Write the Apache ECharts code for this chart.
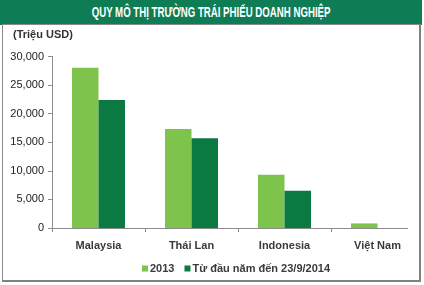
<!DOCTYPE html>
<html>
<head>
<meta charset="utf-8">
<script src="https://cdn.jsdelivr.net/npm/echarts@6/dist/echarts.min.js"></script>
<style>
  html, body { margin: 0; padding: 0; background: #fff; }
  #wrap { position: relative; width: 424px; height: 285px; overflow: hidden; background: #fff; }
  #header { position: absolute; left: 0; top: 0; width: 422px; height: 25px; background: #0e7d55;
    color: #fff; font-family: "Liberation Sans", "DejaVu Sans", sans-serif;
    font-weight: bold; font-size: 14px; line-height: 25px; text-align: center; }
  #header span { display: inline-block; transform: scaleX(0.69); transform-origin: center; white-space: nowrap; }
  #frame { position: absolute; left: 2px; top: 24px; width: 416px; height: 255px; border: 1px solid #8a8a8a;
    border-right: 2px solid #808080; border-bottom: 2px solid #808080; pointer-events: none; z-index: 3; }
  #clip { position: absolute; left: 3px; top: 25px; width: 405px; height: 254px; overflow: hidden; }
  #chart { position: absolute; left: -3px; top: -25px; width: 424px; height: 285px; }
</style>
</head>
<body>
<div id="wrap">
  <div id="clip"><div id="chart"></div></div>
  <div id="frame"></div>
  <div id="header"><span>QUY MÔ THỊ TRƯỜNG TRÁI PHIẾU DOANH NGHIỆP</span></div>
</div>
<script>
var categories = ['Malaysia', 'Thái Lan', 'Indonesia', 'Việt Nam'];
var seriesNames = ['2013', 'Từ đầu năm đến 23/9/2014'];
var values2013 = [28050, 17300, 9300, 800];
var values2014 = [22400, 15700, 6500, 0];
var yTicks = [0, 5000, 10000, 15000, 20000, 25000, 30000];
var unitLabel = '(Triệu USD)';

var chart = echarts.init(document.getElementById('chart'), null, { renderer: 'canvas' });
var fontFam = '"Liberation Sans", "DejaVu Sans", sans-serif';
chart.setOption({
  animation: false,
  backgroundColor: 'transparent',
  graphic: [{
    type: 'text', left: 13, top: 29,
    style: { text: unitLabel, font: 'bold 11px ' + fontFam, fill: '#333' }
  }],
  legend: {
    data: seriesNames,
    left: 137, top: 258,
    itemWidth: 6, itemHeight: 6, itemGap: 10,
    icon: 'rect',
    textStyle: { fontFamily: fontFam, fontSize: 11, fontWeight: 'bold', color: '#3a3a3a', padding: [0, 0, 0, -3] }
  },
  grid: { left: 52, right: -10, top: 56.5, bottom: 57, containLabel: false },
  xAxis: {
    type: 'category',
    data: categories,
    axisLine: { lineStyle: { color: '#8c8c8c', width: 1 } },
    axisTick: { show: true, length: 4, inside: false, lineStyle: { color: '#8c8c8c' } },
    axisLabel: { margin: 12, fontFamily: fontFam, fontSize: 11, fontWeight: 'bold', color: '#3a3a3a' }
  },
  yAxis: {
    type: 'value',
    min: yTicks[0], max: yTicks[yTicks.length - 1], interval: 5000,
    axisLine: { show: true, lineStyle: { color: '#8c8c8c' } },
    axisTick: { show: true, length: 4, lineStyle: { color: '#8c8c8c' } },
    splitLine: { show: false },
    axisLabel: {
      margin: 8, fontFamily: fontFam, fontSize: 11, color: '#222',
      formatter: function (v) { return v.toLocaleString('en-US'); }
    }
  },
  series: [
    { name: seriesNames[0], type: 'bar', data: values2013, barGap: '0%', barCategoryGap: '43%',
      itemStyle: { color: '#7ec34b' } },
    { name: seriesNames[1], type: 'bar', data: values2014, barGap: '0%', barCategoryGap: '43%',
      itemStyle: { color: '#0a7a42' } }
  ]
});
</script>
</body>
</html>
